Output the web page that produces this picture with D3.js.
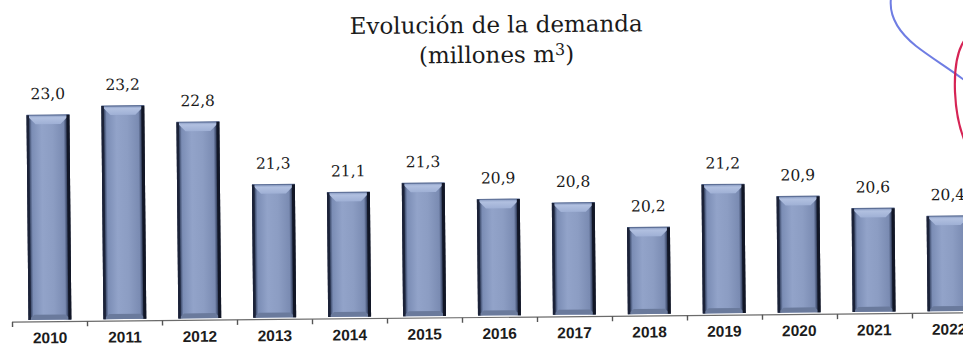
<!DOCTYPE html>
<html>
<head>
<meta charset="utf-8">
<script src="https://cdn.jsdelivr.net/npm/d3@7"></script>
<style>
  html, body { margin: 0; padding: 0; background: #fff; }
  svg { display: block; }
</style>
</head>
<body>
<svg id="chart" width="963" height="345"></svg>
<script>
// Annual water demand, millions of m³
const years = ["2010","2011","2012","2013","2014","2015","2016","2017","2018","2019","2020","2021","2022"];
const demand = [23.0, 23.2, 22.8, 21.3, 21.1, 21.3, 20.9, 20.8, 20.2, 21.2, 20.9, 20.6, 20.4];
const titleLines = ["Evolución de la demanda", "(millones m"];
const fmt = v => v.toFixed(1).replace(".", ",");

const W = 963, H = 345;
const svg = d3.select("#chart");
const defs = svg.append("defs");

// Bar face: dark rims with a lighter steel-blue centre
const face = defs.append("linearGradient").attr("id", "face").attr("x1", 0).attr("x2", 1).attr("y1", 0).attr("y2", 0);
[[0, "#1f2740"], [0.06, "#3a4868"], [0.12, "#7b8db5"], [0.35, "#92a3c9"], [0.6, "#8c9dc3"], [0.86, "#7a8bb2"], [0.92, "#3d4a6a"], [1, "#161c2e"]]
  .forEach(([o, c]) => face.append("stop").attr("offset", o).attr("stop-color", c));
const topBevel = defs.append("linearGradient").attr("id", "topBevel").attr("x1", 0).attr("x2", 0).attr("y1", 0).attr("y2", 1);
[[0, "#8799c0"], [0.3, "#b1c0e0"], [1, "#9fb0d5"]]
  .forEach(([o, c]) => topBevel.append("stop").attr("offset", o).attr("stop-color", c));

// Whole chart sits slightly tilted
const g = svg.append("g").attr("transform", "rotate(-0.55, 48, 322)");

const baseY = 321.7;
const x = d3.scaleBand().domain(years).range([12, 987]).paddingInner(0.427).paddingOuter(0.22);
const y = d3.scaleLinear().domain([18.1, 23.2]).range([baseY, 106.6]);

// Title
const title = g.append("g").attr("font-family", "'DejaVu Serif', serif").attr("fill", "#1a1a1a");
title.append("text").attr("x", 499).attr("y", 37).attr("text-anchor", "middle")
  .attr("font-size", 23).text(titleLines[0]);
const t2 = title.append("text").attr("x", 499).attr("y", 67).attr("text-anchor", "middle").attr("font-size", 23);
t2.append("tspan").text(titleLines[1]);
t2.append("tspan").attr("font-size", 16).attr("dy", -7).text("3");
t2.append("tspan").attr("dy", 7).text(")");

// Bars
const bw = x.bandwidth();
const bars = g.append("g").selectAll("g").data(demand).join("g")
  .attr("transform", (d, i) => `translate(${x(years[i])},0)`);

bars.append("rect")
  .attr("x", 0).attr("width", bw)
  .attr("y", d => y(d)).attr("height", d => baseY - 2 - y(d))
  .attr("fill", "url(#face)");

// top bevel
bars.append("path")
  .attr("d", d => { const t = y(d); return `M0,${t}H${bw}L${bw - 9},${t + 9}H9Z`; })
  .attr("fill", "url(#topBevel)");
bars.append("path")
  .attr("d", d => { const t = y(d); return `M0,${t}H${bw}`; })
  .attr("stroke", "#5d6f96").attr("stroke-width", 1.2);

// bottom bevel
bars.append("path")
  .attr("d", () => { const b = baseY - 2; return `M6,${b - 5}H${bw - 6}L${bw},${b}H0Z`; })
  .attr("fill", "#6a7a9c");

// dark side rims
bars.append("rect").attr("x", 0).attr("width", 2.5)
  .attr("y", d => y(d)).attr("height", d => baseY - 2 - y(d)).attr("fill", "#1b2238");
bars.append("rect").attr("x", bw - 3).attr("width", 3)
  .attr("y", d => y(d)).attr("height", d => baseY - 2 - y(d)).attr("fill", "#111626");

// Value labels
g.append("g").attr("font-family", "'DejaVu Serif', serif").attr("font-size", 15.5).attr("fill", "#1a1a1a")
  .selectAll("text").data(demand).join("text")
  .attr("x", (d, i) => x(years[i]) + bw / 2)
  .attr("y", d => y(d) - 16)
  .attr("text-anchor", "middle")
  .text(d => fmt(d));

// Category axis
const axisScale = d3.scaleBand().domain(years).range([12.5, 12.5 + 75 * years.length]);
const axis = g.append("g").attr("transform", `translate(0,${baseY})`);
axis.append("line").attr("x1", 12).attr("x2", 990).attr("stroke", "#6b6b6b").attr("stroke-width", 1.2);
axis.selectAll("line.tick").data(years.concat(["end"])).join("line").attr("class", "tick")
  .attr("x1", (d, i) => 12.5 + axisScale.step() * i).attr("x2", (d, i) => 12.5 + axisScale.step() * i)
  .attr("y1", 0).attr("y2", 5).attr("stroke", "#555").attr("stroke-width", 1.4);
axis.selectAll("text").data(years).join("text")
  .attr("x", d => x(d) + bw / 2)
  .attr("y", 21.5)
  .attr("text-anchor", "middle")
  .attr("font-family", "'Liberation Sans', Arial, sans-serif")
  .attr("font-weight", "bold").attr("font-size", 15.5).attr("fill", "#1c1c1c")
  .text(d => d);

// Hand-drawn pen marks in the top right corner
const pen = svg.append("g").attr("fill", "none").attr("stroke-linecap", "round");
pen.append("path")
  .attr("d", "M891,-2 C889,14 896,30 916,46 C934,60 952,70 972,86")
  .attr("stroke", "#5f6fe0").attr("stroke-width", 2).attr("opacity", 0.9);
pen.append("path")
  .attr("d", "M968,36 C958,46 954,66 955,92 C956,114 960,132 967,146")
  .attr("stroke", "#d4184c").attr("stroke-width", 2.2).attr("opacity", 0.95);
</script>
</body>
</html>
